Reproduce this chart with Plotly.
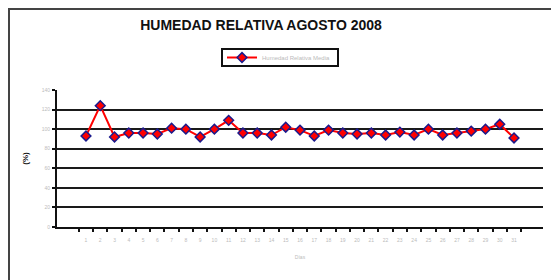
import plotly.graph_objects as go

days = [str(d) for d in range(1, 32)]
humidity = [93, 124, 92, 96, 96, 95, 101, 100, 92, 100, 109, 96, 96, 94, 102, 99,
            93, 99, 96, 95, 96, 94, 97, 94, 100, 94, 96, 98, 100, 105, 91]
y_ticks = [0, 20, 40, 60, 80, 100, 120, 140]
grid_vals = [20, 40, 60, 80, 100, 120]
series_name = "Humedad Relativa Media"
title = "HUMEDAD RELATIVA AGOSTO 2008"

FONT = "Liberation Sans, Arial, sans-serif"

# page body has an 8px margin, so the figure is sized to fit the window
W, H = 551, 272
L, R, T, B = 49, 16, 82, 53
PW, PH = W - L - R, H - T - B


def px(x):  # figure pixel -> paper x
    return (x - L) / PW


def py(y):  # figure pixel -> paper y
    return (H - B - y) / PH


fig = go.Figure()
# invisible copy on the grid axis so that its gridlines are drawn
fig.add_trace(go.Scatter(
    x=days, y=humidity, mode="lines", yaxis="y", showlegend=False,
    hoverinfo="skip", opacity=0, line=dict(width=0),
))
fig.add_trace(go.Scatter(
    x=days, y=humidity, mode="lines+markers", name=series_name, yaxis="y2",
    line=dict(color="#ff0000", width=2),
    marker=dict(symbol="diamond", size=7.5, color="#ff0000",
                line=dict(color="#1a1a8c", width=1.5)),
))

fig.update_layout(
    width=W, height=H,
    margin=dict(l=L, r=R, t=T, b=B, autoexpand=False),
    paper_bgcolor="white", plot_bgcolor="white",
    font=dict(family=FONT),
    title=dict(text="<b>" + title + "</b>", x=253 / W, xanchor="center",
               y=1 - 17 / H, yanchor="middle", yref="container",
               font=dict(size=14, color="#111", family=FONT)),
    showlegend=True,
    legend=dict(orientation="h", x=px(214), xanchor="left",
                y=py(49.5), yanchor="middle",
                borderwidth=0, bgcolor="rgba(0,0,0,0)",
                font=dict(size=6, color="#bbbbbb", family=FONT),
                itemwidth=30, tracegroupgap=0),
    xaxis=dict(type="category", tickson="boundaries", ticks="outside", ticklen=3,
               tickwidth=1.5, tickcolor="#111", showline=True, linecolor="#111",
               linewidth=2, showgrid=False, zeroline=False, automargin=False,
               tickangle=0, ticklabelstandoff=7,
               tickfont=dict(size=5, color="#bbbbbb"),
               title=dict(text="Días", font=dict(size=5, color="#bbbbbb"), standoff=13)),
    yaxis=dict(range=[0, 140], tickvals=grid_vals, showticklabels=False, ticks="",
               showgrid=True, gridcolor="#1a1a1a", gridwidth=2, zeroline=False,
               showline=False, automargin=False),
    yaxis2=dict(range=[0, 140], overlaying="y", anchor="x", side="left",
                tickvals=y_ticks, ticks="outside", ticklen=3,
                tickwidth=1.5, tickcolor="#111", showline=True, linecolor="#111",
                linewidth=2, showgrid=False, zeroline=False, automargin=False,
                ticklabelstandoff=1,
                tickfont=dict(size=5, color="#bbbbbb"),
                title=dict(text="<b>(%)</b>", font=dict(size=8, color="#111"),
                           standoff=12)),
    shapes=[
        dict(type="rect", xref="paper", yref="paper",
             x0=px(1), x1=px(547), y0=py(H + 10), y1=py(1),
             line=dict(color="#444", width=2), layer="below"),
        dict(type="rect", xref="paper", yref="paper",
             x0=px(214), x1=px(330), y0=py(58), y1=py(41),
             line=dict(color="#111", width=2), layer="below"),
    ],
)

fig.write_html("out.html")
